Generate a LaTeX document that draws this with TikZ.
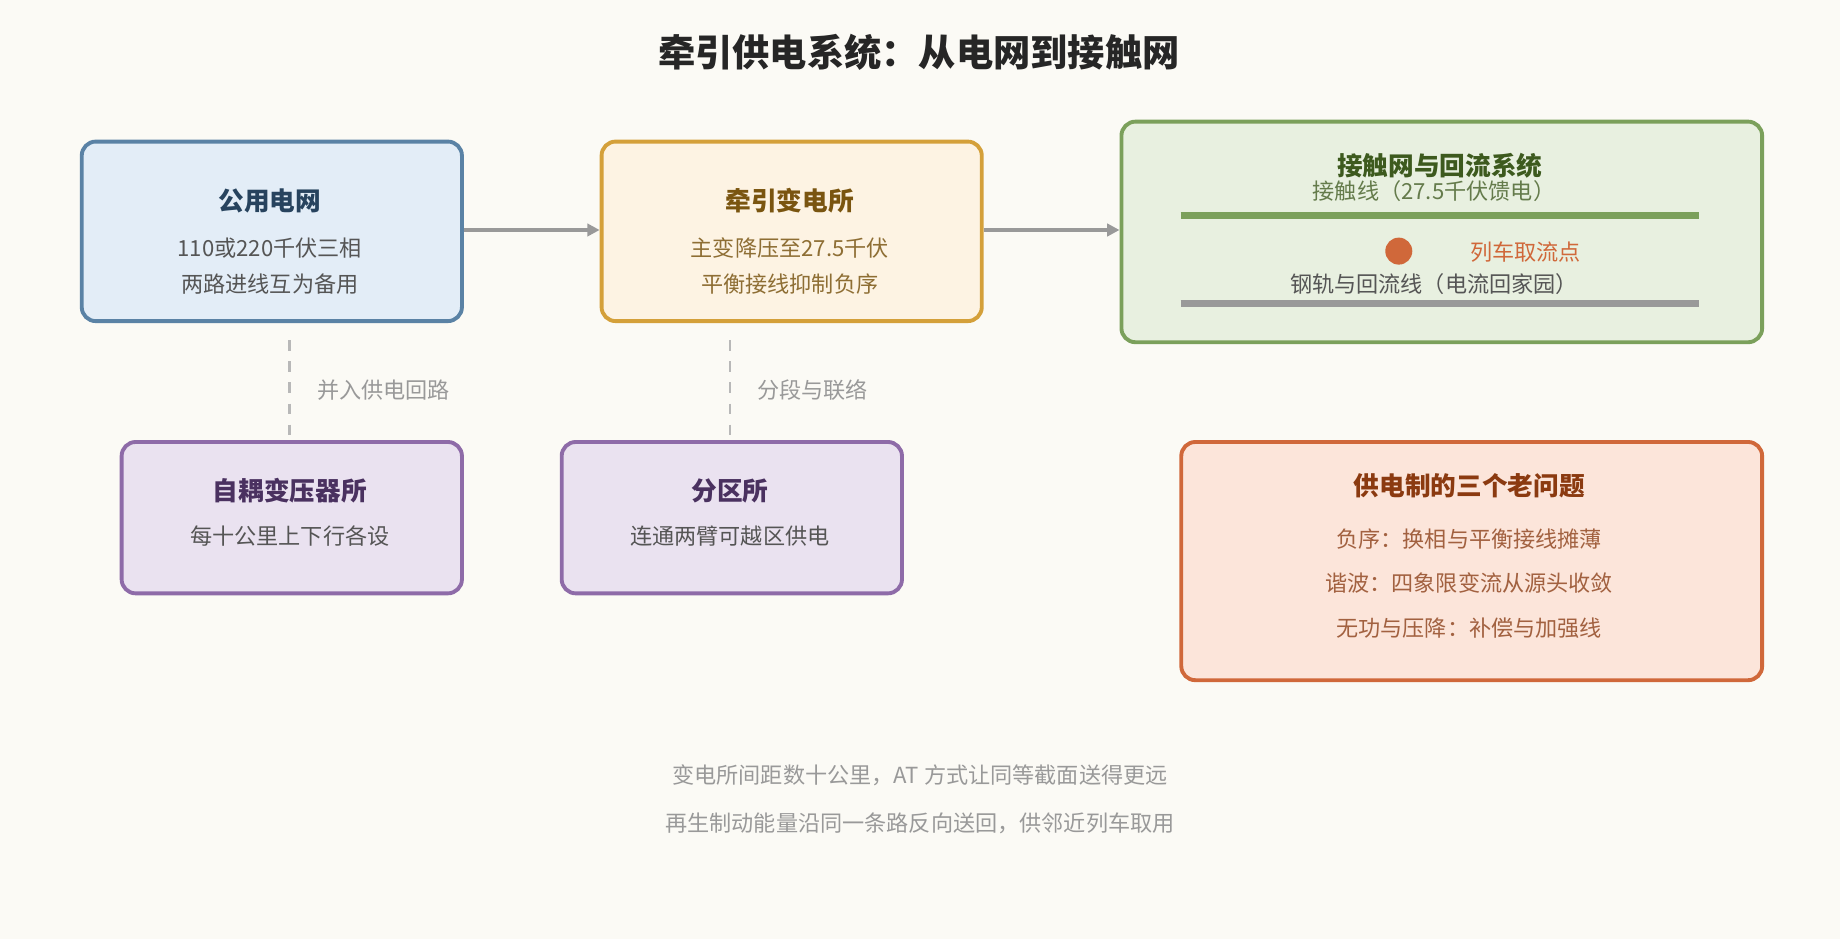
\documentclass[tikz,border=0pt]{standalone}
\usepackage{fontspec}
\setmainfont{Noto Sans CJK SC}
\usetikzlibrary{arrows.meta,positioning}
\definecolor{bgc}{HTML}{FBFAF5}
\definecolor{gridf}{HTML}{E3EDF7}\definecolor{gridd}{HTML}{5A82A5}\definecolor{gridt}{HTML}{27435E}
\definecolor{subf}{HTML}{FDF3E3}\definecolor{subd}{HTML}{D4A03A}\definecolor{subt}{HTML}{7A5510}
\definecolor{catf}{HTML}{E8F0E0}\definecolor{catd}{HTML}{7BA05B}\definecolor{catt}{HTML}{3D5A1E}
\definecolor{atf}{HTML}{EAE2F0}\definecolor{atd}{HTML}{8E6BA8}\definecolor{att}{HTML}{4A3160}
\definecolor{prf}{HTML}{FCE5DA}\definecolor{prd}{HTML}{D0683A}\definecolor{prt}{HTML}{8B3A10}
\definecolor{txt}{HTML}{555555}\definecolor{grey}{HTML}{999999}
\def\pu{0.011735cm}
\tikzset{
  box/.style={draw, line width=1.1pt, rounded corners=4pt, anchor=north west},
  head/.style={font=\fontsize{7.3}{9}\selectfont\bfseries},
  body/.style={font=\fontsize{6.3}{8}\selectfont, text=txt},
  flow/.style={-{Triangle[length=3.5pt,width=3.5pt]}, line width=1pt, draw=grey},
  link/.style={dashed, line width=0.8pt, draw=grey!70},
}
\begin{document}
\begin{tikzpicture}[x=\pu, y=-\pu]
\useasboundingbox[fill=bgc] (0,0) rectangle (1568,800);
\node[font=\fontsize{10.6}{12}\selectfont\bfseries, text=black!85] (title) at (783,45) {牵引供电系统：从电网到接触网};

% upper row
\node[box, fill=gridf, draw=gridd, minimum width={324*\pu}, minimum height={153*\pu}] (grid) at (68,119) {};
\node[head, text=gridt] at (230,171) {公用电网};
\node[body] at (230,211) {110或220千伏三相};
\node[body] at (230,242) {两路进线互为备用};

\node[box, fill=subf, draw=subd, minimum width={324*\pu}, minimum height={153*\pu}] (sub) at (511,119) {};
\node[head, text=subt] at (673,171) {牵引变电所};
\node[body, text=subt!85] at (673,211) {主变降压至27.5千伏};
\node[body, text=subt!85] at (673,242) {平衡接线抑制负序};

\node[box, fill=catf, draw=catd, minimum width={546*\pu}, minimum height={188*\pu}] (cat) at (954,102) {};
\node[head, text=catt] at (1227,141) {接触网与回流系统};
\node[body, text=catt!80] at (1222,163) {接触线（27.5千伏馈电）};
\coordinate (cw1) at (1006,184); \coordinate (cw2) at (1448,184);
\draw[catd, line width=2pt] (cw1) -- (cw2);
\node[circle, fill=prd, minimum size={23*\pu}, inner sep=0pt] (dot) at (1192,214) {};
\node[body, text=prd] at (1300,215) {列车取流点};
\node[body] at (1222,242) {钢轨与回流线（电流回家园）};
\coordinate (rl1) at (1006,259); \coordinate (rl2) at (1448,259);
\draw[grey, line width=2pt] (rl1) -- (rl2);

% lower row
\node[box, fill=atf, draw=atd, minimum width={290*\pu}, minimum height={129*\pu}] (at) at (102,375) {};
\node[head, text=att] at (247,418) {自耦变压器所};
\node[body] at (247,457) {每十公里上下行各设};

\node[box, fill=atf, draw=atd, minimum width={290*\pu}, minimum height={129*\pu}] (sp) at (477,375) {};
\node[head, text=att] at (622,418) {分区所};
\node[body] at (622,457) {连通两臂可越区供电};

\node[box, fill=prf, draw=prd, minimum width={495*\pu}, minimum height={203*\pu}] (prob) at (1005,375) {};
\node[head, text=prt] at (1252,414) {供电制的三个老问题};
\node[body, text=prt!80] at (1252,459) {负序：换相与平衡接线摊薄};
\node[body, text=prt!80] at (1252,497) {谐波：四象限变流从源头收敛};
\node[body, text=prt!80] at (1252,535) {无功与压降：补偿与加强线};

% connectors
\draw[flow] (grid.east |- 0,196) -- (sub.west |- 0,196);
\draw[flow] (sub.east |- 0,196) -- (cat.west |- 0,196);
\coordinate (g1) at (247,290); \coordinate (s1) at (622,290);
\draw[link] (g1) -- (at.north -| g1) node[midway, right=4pt, body, text=grey] {并入供电回路};
\draw[link] (s1) -- (sp.north -| s1) node[midway, right=4pt, body, text=grey] {分段与联络};

% footer
\node[body, text=grey] (note1) at (784,661) {变电所间距数十公里，AT 方式让同等截面送得更远};
\node[body, text=grey] (note2) at (784,702) {再生制动能量沿同一条路反向送回，供邻近列车取用};
\end{tikzpicture}
\end{document}
